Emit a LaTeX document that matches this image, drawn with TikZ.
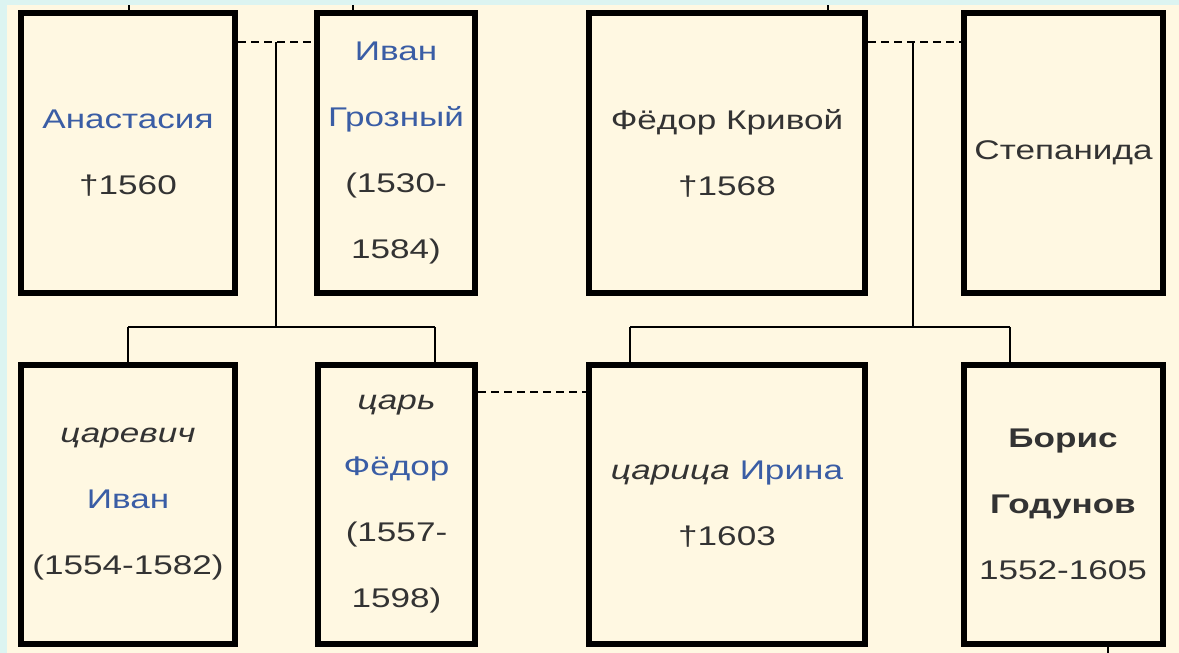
\documentclass[tikz,border=0pt]{standalone}
\usepackage{fontspec}
\setmainfont[FakeStretch=1.3]{Liberation Sans}
\usetikzlibrary{calc}
\definecolor{cream}{HTML}{FFF8E2}
\definecolor{edge}{HTML}{DCF4F1}
\definecolor{ink}{HTML}{333333}
\definecolor{nameblue}{HTML}{3A5DA5}
\tikzset{
  person/.style={draw=black, line width=6pt, inner sep=0pt, align=center,
    text=ink, font=\fontsize{27}{66}\selectfont},
  toprow/.style={person, minimum height=280pt},
  botrow/.style={person, minimum height=279pt},
  link/.style={draw=black, line width=1.5pt},
  marriage/.style={draw=black, line width=1.5pt, dash pattern=on 8pt off 5pt},
}
\newcommand{\nm}[1]{\textcolor{nameblue}{#1}}
\begin{document}
\begin{tikzpicture}[x=1pt, y=-1pt]
\useasboundingbox (0,0) rectangle (1179,653);
\fill[cream] (0,0) rectangle (1179,653);
\fill[edge] (0,0) rectangle (1179,5);
\fill[edge] (0,0) rectangle (7,653);

% top row
\node[toprow, minimum width=214pt] (anast) at (128,153) {\nm{Анастасия}\\†1560};
\node[toprow, minimum width=158pt] (ivang) at (396,153) {\nm{Иван}\\\nm{Грозный}\\(1530-\\1584)};
\node[toprow, minimum width=276pt] (fedk) at (727,153) {Фёдор Кривой\\†1568};
\node[toprow, minimum width=199pt] (stepan) at (1063.5,153) {Степанида};

% bottom row
\node[botrow, minimum width=214pt] (tsarevich) at (128,504.5) {\textit{царевич}\\\nm{Иван}\\(1554-1582)};
\node[botrow, minimum width=157pt] (fedor) at (396.5,504.5) {\textit{царь}\\\nm{Фёдор}\\(1557-\\1598)};
\node[botrow, minimum width=276pt] (irina) at (727,504.5) {\textit{царица} \nm{Ирина}\\†1603};
\node[botrow, minimum width=199pt] (boris) at (1063,504.5) {\textbf{Борис}\\\textbf{Годунов}\\1552-1605};

% coordinates
\coordinate (m1) at (276,42);
\coordinate (j1) at (276,327);
\coordinate (l1) at (128,327);
\coordinate (r1) at (435,327);
\coordinate (m2) at (913,42);
\coordinate (j2) at (913,327);
\coordinate (l2) at (630,327);
\coordinate (r2) at (1010,327);
\coordinate (m3) at (530,392);
\coordinate (s1) at (129,5);
\coordinate (s2) at (353,5);
\coordinate (s3) at (828,5);
\coordinate (s4) at (1108,653);

% marriages
\draw[marriage] (anast.east |- m1) -- (ivang.west |- m1);
\draw[marriage] (fedk.east |- m2) -- (stepan.west |- m2);
\draw[marriage] (fedor.east |- m3) -- (irina.west |- m3);

% descent
\draw[link] (m1) -- (j1);
\draw[link] (l1) -- (r1);
\draw[link] (l1) -- (l1 |- tsarevich.north);
\draw[link] (r1) -- (r1 |- fedor.north);
\draw[link] (m2) -- (j2);
\draw[link] (l2) -- (r2);
\draw[link] (l2) -- (l2 |- irina.north);
\draw[link] (r2) -- (r2 |- boris.north);

% stubs
\draw[link] (s1) -- (s1 |- anast.north);
\draw[link] (s2) -- (s2 |- ivang.north);
\draw[link] (s3) -- (s3 |- fedk.north);
\draw[link] (s4) -- (s4 |- boris.south);
\end{tikzpicture}
\end{document}
